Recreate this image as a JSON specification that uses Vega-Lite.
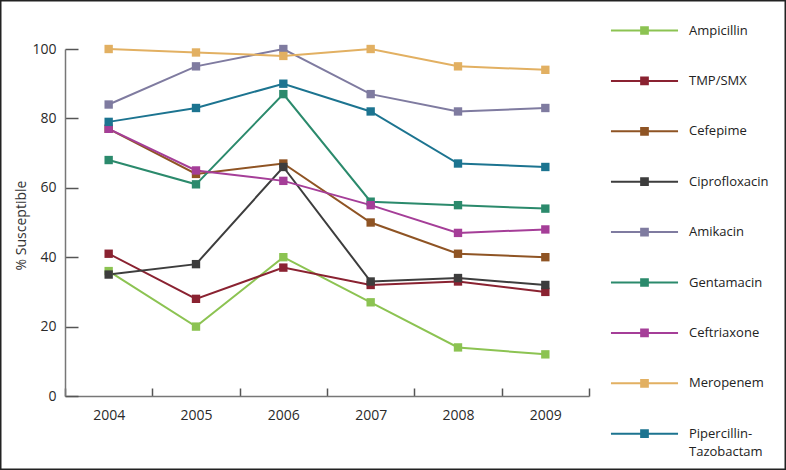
{
  "$schema": "https://vega.github.io/schema/vega-lite/v6.json",
  "width": 786,
  "height": 470,
  "autosize": "none",
  "padding": 0,
  "background": "white",
  "config": {
    "view": {"stroke": "#222", "strokeWidth": 3},
    "font": "Open Sans"
  },
  "data": {
    "values": [
      {"drug": "Ampicillin", "year": "2004", "pct": 36},
      {"drug": "Ampicillin", "year": "2005", "pct": 20},
      {"drug": "Ampicillin", "year": "2006", "pct": 40},
      {"drug": "Ampicillin", "year": "2007", "pct": 27},
      {"drug": "Ampicillin", "year": "2008", "pct": 14},
      {"drug": "Ampicillin", "year": "2009", "pct": 12},
      {"drug": "TMP/SMX", "year": "2004", "pct": 41},
      {"drug": "TMP/SMX", "year": "2005", "pct": 28},
      {"drug": "TMP/SMX", "year": "2006", "pct": 37},
      {"drug": "TMP/SMX", "year": "2007", "pct": 32},
      {"drug": "TMP/SMX", "year": "2008", "pct": 33},
      {"drug": "TMP/SMX", "year": "2009", "pct": 30},
      {"drug": "Cefepime", "year": "2004", "pct": 77},
      {"drug": "Cefepime", "year": "2005", "pct": 64},
      {"drug": "Cefepime", "year": "2006", "pct": 67},
      {"drug": "Cefepime", "year": "2007", "pct": 50},
      {"drug": "Cefepime", "year": "2008", "pct": 41},
      {"drug": "Cefepime", "year": "2009", "pct": 40},
      {"drug": "Ciprofloxacin", "year": "2004", "pct": 35},
      {"drug": "Ciprofloxacin", "year": "2005", "pct": 38},
      {"drug": "Ciprofloxacin", "year": "2006", "pct": 66},
      {"drug": "Ciprofloxacin", "year": "2007", "pct": 33},
      {"drug": "Ciprofloxacin", "year": "2008", "pct": 34},
      {"drug": "Ciprofloxacin", "year": "2009", "pct": 32},
      {"drug": "Amikacin", "year": "2004", "pct": 84},
      {"drug": "Amikacin", "year": "2005", "pct": 95},
      {"drug": "Amikacin", "year": "2006", "pct": 100},
      {"drug": "Amikacin", "year": "2007", "pct": 87},
      {"drug": "Amikacin", "year": "2008", "pct": 82},
      {"drug": "Amikacin", "year": "2009", "pct": 83},
      {"drug": "Gentamacin", "year": "2004", "pct": 68},
      {"drug": "Gentamacin", "year": "2005", "pct": 61},
      {"drug": "Gentamacin", "year": "2006", "pct": 87},
      {"drug": "Gentamacin", "year": "2007", "pct": 56},
      {"drug": "Gentamacin", "year": "2008", "pct": 55},
      {"drug": "Gentamacin", "year": "2009", "pct": 54},
      {"drug": "Ceftriaxone", "year": "2004", "pct": 77},
      {"drug": "Ceftriaxone", "year": "2005", "pct": 65},
      {"drug": "Ceftriaxone", "year": "2006", "pct": 62},
      {"drug": "Ceftriaxone", "year": "2007", "pct": 55},
      {"drug": "Ceftriaxone", "year": "2008", "pct": 47},
      {"drug": "Ceftriaxone", "year": "2009", "pct": 48},
      {"drug": "Meropenem", "year": "2004", "pct": 100},
      {"drug": "Meropenem", "year": "2005", "pct": 99},
      {"drug": "Meropenem", "year": "2006", "pct": 98},
      {"drug": "Meropenem", "year": "2007", "pct": 100},
      {"drug": "Meropenem", "year": "2008", "pct": 95},
      {"drug": "Meropenem", "year": "2009", "pct": 94},
      {"drug": "Pipercillin-Tazobactam", "year": "2004", "pct": 79},
      {"drug": "Pipercillin-Tazobactam", "year": "2005", "pct": 83},
      {"drug": "Pipercillin-Tazobactam", "year": "2006", "pct": 90},
      {"drug": "Pipercillin-Tazobactam", "year": "2007", "pct": 82},
      {"drug": "Pipercillin-Tazobactam", "year": "2008", "pct": 67},
      {"drug": "Pipercillin-Tazobactam", "year": "2009", "pct": 66}
    ]
  },
  "encoding": {
    "x": {
      "field": "year",
      "type": "ordinal",
      "scale": {"type": "band", "range": [65, 589], "paddingInner": 0, "paddingOuter": 0},
      "axis": {
        "orient": "bottom",
        "offset": -74,
        "title": null,
        "labelAngle": 0,
        "tickBand": "extent",
        "tickSize": -8,
        "tickColor": "#555",
        "tickWidth": 1.5,
        "domainColor": "#777",
        "domainWidth": 1.5,
        "labelFontSize": 14,
        "labelColor": "#2a2a2a",
        "labelPadding": 20
      }
    },
    "y": {
      "field": "pct",
      "type": "quantitative",
      "scale": {"domain": [0, 100], "range": [396, 49], "nice": false},
      "axis": {
        "orient": "left",
        "offset": -65,
        "values": [0, 20, 40, 60, 80, 100],
        "title": "% Susceptible",
        "titleFontSize": 14,
        "titleFontWeight": "normal",
        "titleColor": "#333",
        "titlePadding": 3,
        "titleY": 225,
        "grid": false,
        "tickSize": -13,
        "tickColor": "#555",
        "tickWidth": 1.5,
        "domainColor": "#777",
        "domainWidth": 1.5,
        "labelFontSize": 14,
        "labelColor": "#2a2a2a",
        "labelPadding": 22
      }
    },
    "color": {
      "field": "drug",
      "type": "nominal",
      "scale": {
        "domain": ["Ampicillin", "TMP/SMX", "Cefepime", "Ciprofloxacin", "Amikacin", "Gentamacin", "Ceftriaxone", "Meropenem", "Pipercillin-Tazobactam"],
        "range": ["#8cc352", "#8a2231", "#8f5424", "#3d3d3d", "#7f7ba0", "#2b8a6c", "#a53e98", "#e2b062", "#1c7490"]
      },
      "legend": {
        "orient": "none",
        "legendX": 632,
        "legendY": 18,
        "title": null,
        "padding": 0,
        "symbolType": "M-3,0H3M-0.3,-0.3H0.3V0.3H-0.3Z",
        "symbolSize": 500,
        "symbolStrokeWidth": 2,
        "labelOffset": 32,
        "labelFontSize": 13,
        "labelColor": "#222",
        "labelLimit": 200,
        "rowPadding": 30.4,
        "labelExpr": "datum.label == 'Pipercillin-Tazobactam' ? ['Pipercillin-', 'Tazobactam'] : datum.label",
        "encode": {
          "symbols": {
            "update": {
              "fill": {"scale": "color", "field": "value"},
              "stroke": {"scale": "color", "field": "value"},
              "opacity": {"value": 1}
            }
          },
          "labels": {
            "update": {
              "lineHeight": {"value": 18}
            }
          }
        }
      }
    }
  },
  "layer": [
    {"mark": {"type": "line", "strokeWidth": 2}},
    {"mark": {"type": "point", "shape": "square", "filled": true, "size": 70, "opacity": 1}}
  ]
}
